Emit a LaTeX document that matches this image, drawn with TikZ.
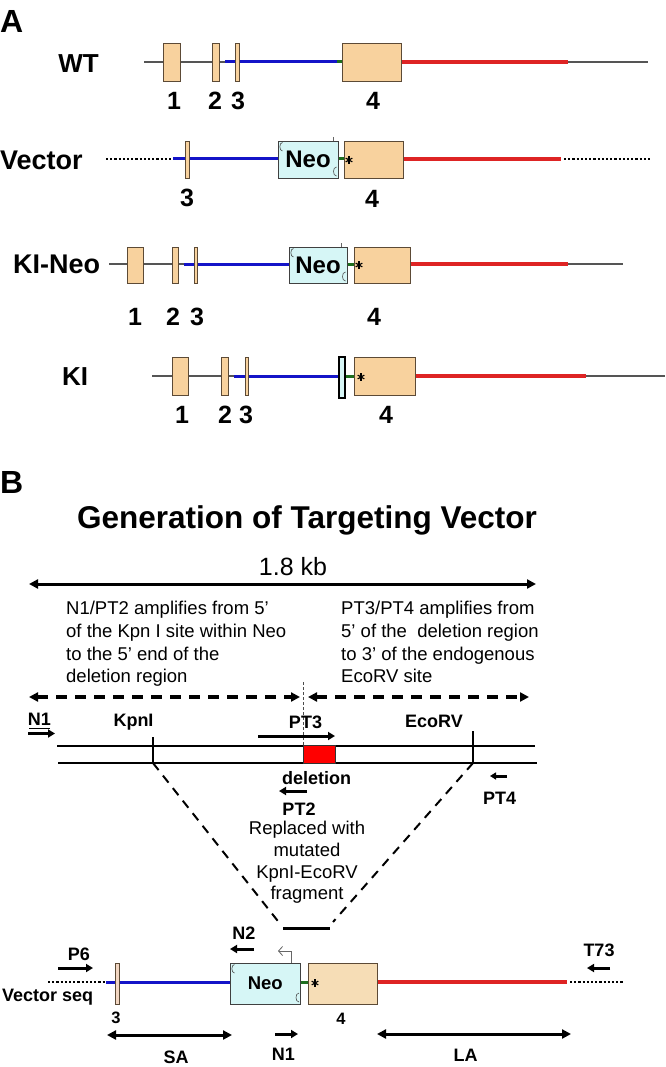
\documentclass[tikz,border=0pt]{standalone}
\usepackage{fontspec}
\setmainfont{Liberation Sans}
\usetikzlibrary{arrows.meta}
\definecolor{exonc}{HTML}{F8D29E}
\definecolor{exonb}{HTML}{5C4A36}
\definecolor{exonc2}{HTML}{F2D6C2}
\definecolor{exonc3}{HTML}{F6DDB6}
\definecolor{neoc}{HTML}{D6F6F6}
\definecolor{bluel}{HTML}{1414C8}
\definecolor{redl}{HTML}{DE2424}
\definecolor{greenl}{HTML}{1E6E1E}
\definecolor{grayl}{HTML}{555555}
\newcommand\gbox[7]{\node[#2,inner sep=0,outer sep=0,minimum width={(#5)-(#3)},minimum height={(#6)-(#4)}] (#1) at ({((#3)+(#5))/2},{((#4)+(#6))/2}) {#7};}
\newcommand\neomarks[1]{%
  \draw[line width=0.6,black!70] ([xshift=4.5,yshift=-1.5]#1.north west) .. controls +(-3.5,0) and +(-3.5,0) .. ([xshift=4.5,yshift=-10]#1.north west);
  \draw[line width=0.6,black!70] ([xshift=-1.5,yshift=11]#1.south east) .. controls +(-4,0) and +(-4,0) .. ([xshift=-1.5,yshift=2]#1.south east);}
\newcommand\astk[2]{\foreach \a in {90,30,-30}{\draw[line width=1.1] ($(#1,#2)+(\a:3.8)$) -- ($(#1,#2)+(\a+180:3.8)$);}}
\usetikzlibrary{calc}
\begin{document}
\begin{tikzpicture}[x=1pt,y=-1pt,
  gl/.style={grayl,line width=1.3},
  bl/.style={bluel,line width=3},
  rl/.style={redl,line width=3.5},
  grl/.style={greenl,line width=3},
  dl/.style={black,line width=2.2,dash pattern=on 2.2pt off 2pt},
  exon/.style={draw=exonb,fill=exonc,line width=0.9},
  neo/.style={draw=black!75,fill=neoc,line width=0.9,font=\fontsize{24}{28}\selectfont\bfseries},
  panel/.style={font=\fontsize{32}{36}\selectfont\bfseries,inner sep=0,anchor=base west},
  rowlab/.style={font=\fontsize{27}{32}\selectfont\bfseries,inner sep=0,anchor=base west},
  num/.style={font=\fontsize{25}{30}\selectfont\bfseries,inner sep=0,anchor=base},
  para/.style={font=\fontsize{18.5}{22.7}\selectfont,inner sep=0,align=left,anchor=north west},
  sb/.style={font=\fontsize{18}{21}\selectfont\bfseries,inner sep=0,anchor=base},
  prim/.style={line width=3,-{Triangle[length=7pt,width=8pt]}},
  dbl/.style={line width=3,{Triangle[length=9pt,width=9pt]}-{Triangle[length=9pt,width=9pt]}},
  dash arrow/.style={line width=3.5,dash pattern=on 11pt off 8pt,{Triangle[length=9pt,width=9pt]}-{Triangle[length=9pt,width=9pt]}},
  tline/.style={line width=2}
]
\useasboundingbox (0,0) rectangle (665,1067);

% ---------------- Panel A ----------------
\node[panel] (pA) at (0,33) {A};

% WT
\node[rowlab,font=\fontsize{26}{30}\selectfont\bfseries,anchor=base] (lWT) at (78.5,72.3) {WT};
\draw[gl] (144,62) -- (648,62);
\draw[bl] (225,62) -- (337,62);
\draw[grl] (337,62) -- (342,62);
\draw[rl] (401.5,62) -- (568,62);
\gbox{wa}{exon}{163}{43}{180}{81}{}
\gbox{wb}{exon}{212.5}{43}{219}{81}{}
\gbox{wc}{exon}{235}{43}{239}{81}{}
\gbox{wd}{exon}{342}{43}{401.5}{81}{}
\node[num] (n1) at (174,110) {1};
\node[num] (n2) at (215,110) {2};
\node[num] (n3) at (238,110) {3};
\node[num] (n4) at (373,110) {4};

% Vector
\node[rowlab] (lV) at (0,169.3) {Vector};
\draw[dl] (106,159) -- (173,159);
\draw[bl] (173,159) -- (279,159);
\draw[grl] (338,159) -- (344,159);
\draw[rl] (403,159) -- (561,159);
\draw[dl] (564,159) -- (651,159);
\gbox{vc}{exon}{185}{141}{189}{178}{}
\gbox{vneo}{neo}{278}{141}{338}{178}{Neo}
\neomarks{vneo}
\draw[line width=0.5,black!60] (333,137) -- (vneo.north -| 333,0);
\gbox{vd}{exon}{344}{141}{403}{178}{}
\astk{349}{160}
\node[num] (v3) at (187,207) {3};
\node[num] (v4) at (372,208) {4};

% KI-Neo
\node[rowlab] (lKN) at (13,273.5) {KI-Neo};
\draw[gl] (109,264) -- (623,264);
\draw[bl] (184,264) -- (289,264);
\draw[grl] (347,264) -- (354,264);
\draw[rl] (410,264) -- (568,264);
\gbox{ka}{exon}{127}{247}{143}{283}{}
\gbox{kb}{exon}{172}{247}{178}{283}{}
\gbox{kc}{exon}{194}{247}{197}{283}{}
\gbox{kneo}{neo}{289}{247}{347}{283}{Neo}
\neomarks{kneo}
\draw[line width=0.5,black!60] (341,243.5) -- (kneo.north -| 341,0);
\gbox{kd}{exon}{354}{247}{410}{283}{}
\astk{359}{265}
\node[num] (k1) at (135,325) {1};
\node[num] (k2) at (173,325) {2};
\node[num] (k3) at (197,325) {3};
\node[num] (k4) at (374,325) {4};

% KI
\node[rowlab,font=\fontsize{26}{30}\selectfont\bfseries,anchor=base] (lKI) at (75,385.3) {KI};
\draw[gl] (152,376) -- (665,376);
\draw[bl] (234,376) -- (339,376);
\draw[grl] (345,376) -- (354,376);
\draw[rl] (415,376) -- (586,376);
\gbox{ia}{exon}{172}{357}{188}{395}{}
\gbox{ib}{exon}{221}{357}{228}{395}{}
\gbox{ic}{exon}{245}{357}{248.5}{395}{}
\gbox{ineo}{draw=black,fill=neoc,line width=1.5}{339}{357}{345}{398}{}
\gbox{id}{exon}{354}{357}{415}{395}{}
\astk{361}{377}
\node[num] (i1) at (182,423) {1};
\node[num] (i2) at (225,423) {2};
\node[num] (i3) at (246,423) {3};
\node[num] (i4) at (386,423) {4};

% ---------------- Panel B ----------------
\node[panel] (pB) at (0,493) {B};
\node[font=\fontsize{31.5}{36}\selectfont\bfseries,inner sep=0,anchor=base] (title) at (307,528) {Generation of Targeting Vector};
\node[font=\fontsize{25}{30}\selectfont,inner sep=0,anchor=base] (kb) at (293,575) {1.8 kb};
\coordinate (kbL) at (29,584);
\coordinate (kbR) at (536,584);
\draw[dbl] (kbL) -- (kbR);

\node[para] (pl) at (66,601) {N1/PT2 amplifies from 5’\\of the Kpn I site within Neo\\to the 5’ end of the\\deletion region};
\node[para] (pr) at (341,601) {PT3/PT4 amplifies from\\5’ of the\ \ deletion region\\to 3’ of the endogenous\\EcoRV site};

\coordinate (daL1) at (29,697);
\coordinate (daR1) at (300,697);
\coordinate (daL2) at (308,697);
\coordinate (daR2) at (529,697);
\draw[dash arrow] (daL1) -- (daR1);
\draw[dash arrow] (daL2) -- (daR2);
\draw[line width=0.7,black!70,dash pattern=on 3pt off 2pt] (303.5,682) -- (303.5,763);

% genomic double line
\draw[tline] (57,746) -- (535,746);
\draw[tline] (58,763) -- (537,763);
\coordinate (kpn) at (153,763);
\coordinate (eco) at (473,763);
\draw[tline] (153,737) -- (kpn);
\draw[tline] (473,731) -- (eco);
\gbox{del}{draw=black!80,fill=red,line width=1}{303.5}{745}{335.5}{763.5}{}

\node[sb] (tN1) at (39.5,725.5) {N1};
\draw[line width=1.2] (29,728.3) -- (50,728.3);
\draw[prim] (28,733.5) -- (55,733.5);
\node[sb] (tKpn) at (133.5,726.5) {KpnI};
\node[sb] (tPT3) at (305.5,728.5) {PT3};
\draw[prim] (258,736) -- (335,736);
\node[sb] (tEco) at (434,727.5) {EcoRV};
\node[sb] (tdel) at (316.5,784.5) {deletion};
\draw[prim] (307,791) -- (279,791);
\node[sb] (tPT2) at (299,815.5) {PT2};
\draw[line width=3,-{Triangle[length=6pt,width=7pt]}] (507,776) -- (490,776);
\node[sb] (tPT4) at (499.5,804.5) {PT4};

\node[font=\fontsize{18.5}{21.7}\selectfont,inner sep=0,align=center,anchor=north] (repl) at (307,821) {Replaced with\\mutated\\KpnI-EcoRV\\fragment};

\coordinate (fragL) at (283,928);
\coordinate (fragR) at (330,928);
\draw[line width=2,dash pattern=on 9pt off 7pt] (kpn) -- (281,925);
\draw[line width=2,dash pattern=on 9pt off 7pt] (eco) -- (333,922);
\draw[line width=3] (fragL) -- (fragR);

% targeting vector
\node[sb,anchor=base west] (tvs) at (2,1001.5) {Vector seq};
\draw[dl] (48,982) -- (106,982);
\draw[bl] (106,982) -- (230,982);
\draw[grl] (300.5,982) -- (308,982);
\draw[rl] (377,982) -- (567,982);
\draw[dl] (570,982) -- (624,982);
\gbox{bc}{draw=exonb,fill=exonc2,line width=0.9}{115}{963}{119}{1004}{}
\gbox{bneo}{neo,font=\fontsize{18.5}{22}\selectfont\bfseries}{230}{963}{300.5}{1004}{Neo}
\neomarks{bneo}
\gbox{bd}{draw=exonb,fill=exonc3,line width=0.9}{308}{963}{377}{1004}{}
\astk{315}{983}
\draw[line width=0.8,black!60,-{Straight Barb[length=4pt,width=9pt]}] (291,963) -- (291,951) -- (278,951);

\node[sb] (tP6) at (79,960) {P6};
\draw[prim] (58,968) -- (93,968);
\node[sb] (tN2) at (244,939) {N2};
\draw[prim] (254,949) -- (230,949);
\node[sb] (tT73) at (599,956) {T73};
\draw[prim] (610,968) -- (587,968);
\node[font=\fontsize{16.5}{20}\selectfont\bfseries,inner sep=0,anchor=base] (b3) at (116,1023) {3};
\node[font=\fontsize{16.5}{20}\selectfont\bfseries,inner sep=0,anchor=base] (b4) at (341,1024) {4};
\coordinate (saL) at (107,1035);
\coordinate (saR) at (232,1035);
\draw[dbl] (saL) -- (saR);
\coordinate (laL) at (377,1034);
\coordinate (laR) at (571,1034);
\draw[dbl] (laL) -- (laR);
\draw[prim] (275,1034) -- (298,1034);
\node[sb] (tSA) at (176,1063.5) {SA};
\node[sb] (tN1b) at (283.5,1060) {N1};
\node[sb] (tLA) at (465.5,1061) {LA};
\end{tikzpicture}
\end{document}
